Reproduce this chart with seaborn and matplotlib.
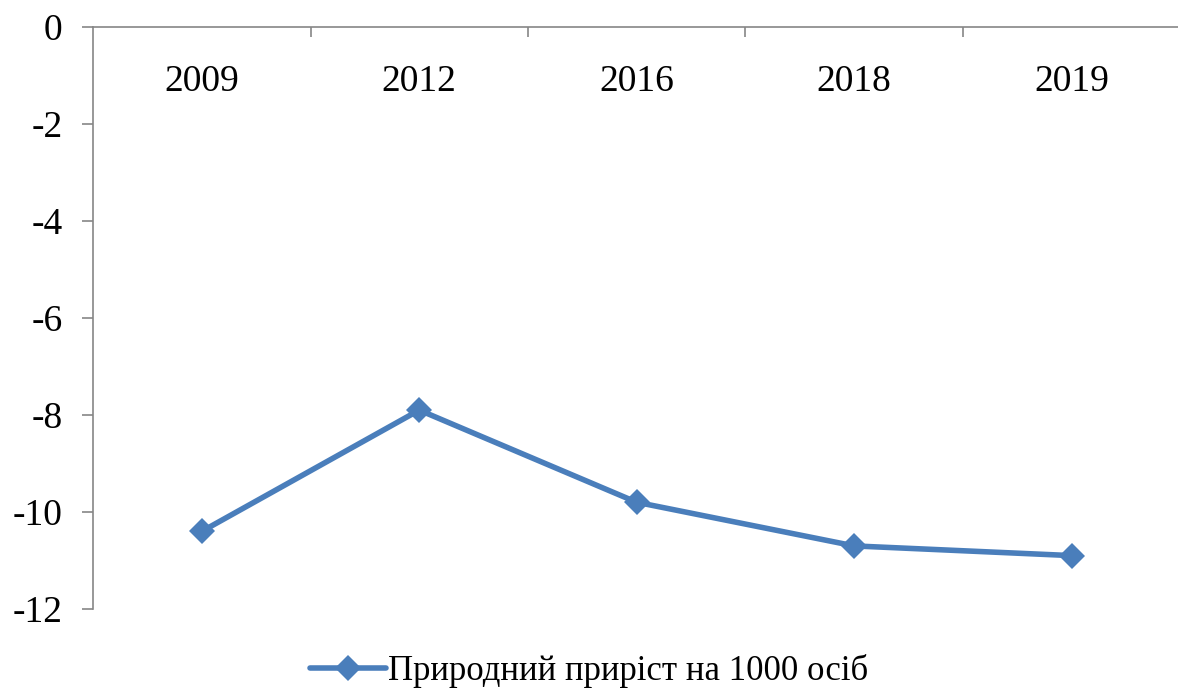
import pandas as pd
import matplotlib.pyplot as plt
import seaborn as sns

# data
years = ['2009', '2012', '2016', '2018', '2019']
growth = [-10.4, -7.9, -9.8, -10.7, -10.9]
series_name = 'Природний приріст на 1000 осіб'
y_ticks = [0, -2, -4, -6, -8, -10, -12]

df = pd.DataFrame({'year': years, 'growth': growth})

sns.set_style('white')
plt.rcParams['font.family'] = ['Liberation Serif', 'DejaVu Serif']
plt.rcParams['text.color'] = 'black'
plt.rcParams['xtick.color'] = 'black'
plt.rcParams['ytick.color'] = 'black'

fig = plt.figure(figsize=(11.78, 6.92), dpi=100)
ax = fig.add_axes([0.079, 0.12, 0.923, 0.841])

sns.lineplot(data=df, x='year', y='growth', ax=ax, color='#4A7EBB',
             linewidth=4, marker='D', markersize=13, markeredgewidth=0,
             label=series_name, legend=False)

ax.set_xlim(-0.5, len(years) - 0.5)
ax.set_ylim(-12, 0)
ax.set_yticks(y_ticks)
ax.set_yticklabels([str(v) for v in y_ticks])

# x axis sits on top (y = 0); labels are drawn under the axis line
ax.xaxis.set_ticks_position('top')
ax.set_xticks(range(len(years)))
ax.set_xticklabels(years)
ax.set_xticks([i + 0.5 for i in range(len(years) - 1)], minor=True)
ax.tick_params(axis='x', which='major', length=0, labeltop=True,
               labelbottom=False, pad=-52, labelsize=27, labelcolor='black')
ax.tick_params(axis='x', which='minor', top=True, length=7, width=1.2,
               color='#868686', direction='in')
ax.tick_params(axis='y', left=True, length=8, width=1.2, color='#868686',
               direction='out', pad=14, labelsize=27, labelcolor='black')

ax.set_xlabel('')
ax.set_ylabel('')
for side in ['right', 'bottom']:
    ax.spines[side].set_visible(False)
for side in ['left', 'top']:
    ax.spines[side].set_color('#868686')
    ax.spines[side].set_linewidth(1.2)

handles, labels = ax.get_legend_handles_labels()
fig.legend(handles, labels, loc='lower center', bbox_to_anchor=(0.5, -0.04),
           frameon=False, fontsize=25, handlelength=2.2, handletextpad=0.05)

plt.savefig('out.png', dpi=100)
